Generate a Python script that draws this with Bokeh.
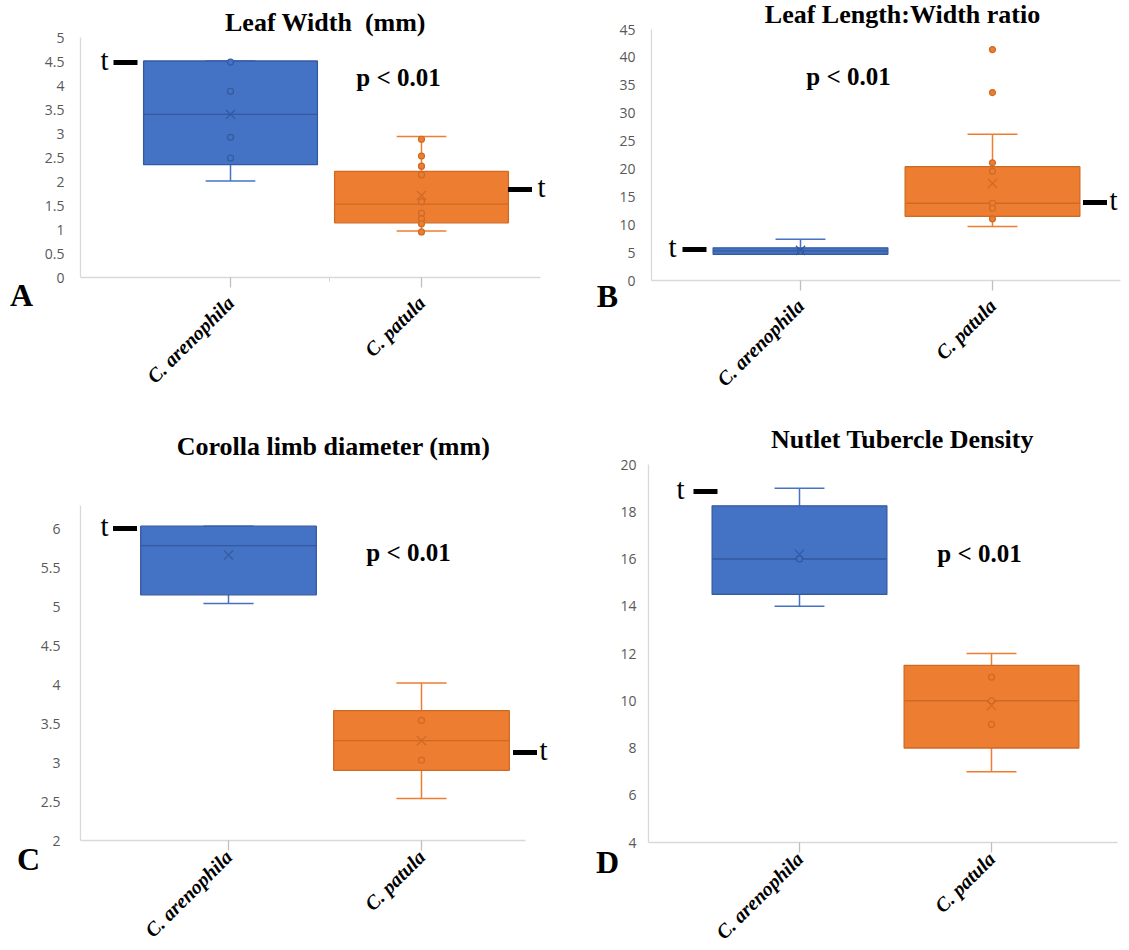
import numpy as np
from bokeh.plotting import figure
from bokeh.models import FixedTicker, Range1d
from bokeh.layouts import column, row
from bokeh.embed import file_html
from bokeh.resources import INLINE
from bokeh.core.properties import value

# ---------------- data ----------------
species = ["C. arenophila", "C. patula"]

# A: Leaf Width (mm)
a_q1 = [2.35, 1.14]
a_median = [3.40, 1.53]
a_q3 = [4.51, 2.21]
a_mean = [3.40, 1.71]
a_low = [2.01, 0.97]
a_high = [4.51, 2.94]
a_points = [[4.49, 3.88, 2.92, 2.49],
            [2.88, 2.53, 2.32, 2.14, 1.58, 1.34, 1.22, 1.12, 0.95]]

# B: Leaf Length:Width ratio
b_q1 = [4.70, 11.5]
b_median = [5.30, 13.85]
b_q3 = [5.85, 20.4]
b_mean = [5.40, 17.4]
b_low = [4.70, 9.7]
b_high = [7.40, 26.2]
b_points = [[5.2], [21.1, 19.6, 13.85, 12.95, 11.05, 41.4, 33.7]]

# C: Corolla limb diameter (mm)
c_q1 = [5.15, 2.90]
c_median = [5.78, 3.28]
c_q3 = [6.03, 3.665]
c_mean = [5.66, 3.28]
c_low = [5.04, 2.54]
c_high = [6.03, 4.02]
c_points = [[], [3.54, 3.03]]

# D: Nutlet Tubercle Density
d_q1 = [14.5, 8.0]
d_median = [16.0, 10.0]
d_q3 = [18.25, 11.5]
d_mean = [16.2, 9.8]
d_low = [14.0, 7.0]
d_high = [19.0, 12.0]
d_points = [[16.0], [11.0, 10.0, 9.0]]

y_ticks_a = [0, 0.5, 1, 1.5, 2, 2.5, 3, 3.5, 4, 4.5, 5]
y_ticks_b = [0, 5, 10, 15, 20, 25, 30, 35, 40, 45]
y_ticks_c = [2, 2.5, 3, 3.5, 4, 4.5, 5, 5.5, 6]
y_ticks_d = [4, 6, 8, 10, 12, 14, 16, 18, 20]

# ---------------- style ----------------
FILL = ["#4472C4", "#ED7D31"]
EDGE = ["#34599F", "#CF6A24"]
SERIF = "Liberation Serif"
BOX_W = 0.91
CAP_W = 0.26


def fmt(v):
    return f"{v:g}"


def panel(cfg):
    g = cfg["geom"]
    # page-pixel -> data helpers (for layout of ranges and annotations)
    X = lambda px: 1 + (px - g["x1px"]) / g["xppu"]
    Y = lambda py: g["yv"] + (g["ypx"] - py) / g["yppu"]

    p = figure(width=g["w"], height=g["h"], output_backend="svg",
               toolbar_location=None,
               x_range=Range1d(X(g["left"]), X(g["left"] + g["w"])),
               y_range=Range1d(Y(g["top"] + g["h"]), Y(g["top"])),
               min_border=0)
    p.outline_line_color = None
    p.grid.visible = False
    p.background_fill_color = "white"
    p.border_fill_color = "white"

    xs = [i + 1 for i in range(len(species))]
    q1, med, q3, mean, lo, hi, pts = (cfg["q1"], cfg["med"], cfg["q3"],
                                      cfg["mean"], cfg["lo"], cfg["hi"], cfg["pts"])
    for i, x in enumerate(xs):
        p.segment(x0=[x, x], y0=[q3[i], q1[i]], x1=[x, x], y1=[hi[i], lo[i]],
                  line_color=FILL[i], line_width=1.5)
        p.segment(x0=[x - CAP_W / 2] * 2, y0=[hi[i], lo[i]],
                  x1=[x + CAP_W / 2] * 2, y1=[hi[i], lo[i]],
                  line_color=FILL[i], line_width=1.5)
    p.vbar(x=xs, width=BOX_W, bottom=q1, top=q3, fill_color=FILL,
           line_color=EDGE, line_width=1.3)
    p.segment(x0=[x - BOX_W / 2 for x in xs], y0=med,
              x1=[x + BOX_W / 2 for x in xs], y1=med,
              line_color=EDGE, line_width=1.3)
    for i, x in enumerate(xs):
        if pts[i]:
            p.scatter(x=[x] * len(pts[i]), y=pts[i], marker="circle", size=6,
                      fill_color=FILL[i], line_color=EDGE[i], line_width=1.2)
    p.scatter(x=xs, y=mean, marker="x", size=13, line_color=EDGE, line_width=1.2)

    # axes at fixed positions inside the full-size frame
    yt = cfg["yt"]
    xa = p.xaxis[0]
    xa.fixed_location = yt[0]
    xa.ticker = FixedTicker(ticks=xs, minor_ticks=cfg.get("xminor", []))
    xa.major_label_overrides = {x: s for x, s in zip(xs, species)}
    xa.major_label_orientation = np.pi / 4
    xa.major_label_text_font = SERIF
    xa.major_label_text_font_style = "bold italic"
    xa.major_label_text_font_size = "20px"
    xa.major_label_text_color = "black"
    xa.major_label_standoff = g["xstand"]
    xa.axis_line_color = "#d9d9d9"
    xa.axis_line_width = 1.3
    xa.major_tick_line_color = "#bfbfbf"
    xa.major_tick_line_width = 1.3
    xa.major_tick_in = 0
    xa.major_tick_out = 10
    xa.minor_tick_line_color = "#d0d0d0"
    xa.minor_tick_in = 0
    xa.minor_tick_out = 4
    xa.bounds = (X(g["yaxis_px"]), X(g["xend_px"]))

    ya = p.yaxis[0]
    ya.fixed_location = X(g["yaxis_px"])
    ya.ticker = FixedTicker(ticks=yt, minor_ticks=[])
    ya.major_label_overrides = {t: fmt(t) for t in yt}
    ya.major_label_text_font = "Open Sans"
    ya.major_label_text_font_size = "14px"
    ya.major_label_text_color = "#595959"
    ya.major_label_standoff = g["ystand"]
    ya.axis_line_color = "#d9d9d9"
    ya.axis_line_width = 1.3
    ya.major_tick_line_color = None
    ya.minor_tick_line_color = None
    ya.bounds = (yt[0], g["ytop"])

    # title, panel letter, p-value
    tx, ty = cfg["title_px"]
    p.text(x=[X(tx)], y=[Y(ty)], text=[cfg["title"]], text_font=value(SERIF),
           text_font_style="bold", text_font_size="26px", text_align="center",
           text_baseline="middle", text_color="black")
    lx, ly = cfg["letter_px"]
    p.text(x=[X(lx)], y=[Y(ly)], text=[cfg["letter"]], text_font=value(SERIF),
           text_font_style="bold", text_font_size="32px", text_align="center",
           text_baseline="middle", text_color="black")
    px_, py_ = cfg["p_px"]
    p.text(x=[X(px_)], y=[Y(py_)], text=["p < 0.01"], text_font=value(SERIF),
           text_font_style="bold", text_font_size="25px", text_align="center",
           text_baseline="middle", text_color="black")
    # "t" markers: (t centre px, bar centre px, y px)
    for tpx, bpx, ypx in cfg["tmarks"]:
        p.text(x=[X(tpx)], y=[Y(ypx)], text=["t"], text_font=value(SERIF),
               text_font_size="29px", text_align="center",
               text_baseline="middle", text_color="black", y_offset=-3)
        p.rect(x=[X(bpx)], y=[Y(ypx)], width=24, height=5, width_units="screen",
               height_units="screen", fill_color="black", line_color=None)
    return p


pa = panel(dict(
    geom=dict(left=0, top=0, w=564, h=418, x1px=230, xppu=191, yv=0, ypx=277, yppu=48,
              yaxis_px=80, xend_px=540, ytop=5, ystand=10, xstand=12),
    yt=y_ticks_a, q1=a_q1, med=a_median, q3=a_q3, mean=a_mean, lo=a_low, hi=a_high,
    pts=a_points, title="Leaf Width \u00a0(mm)", title_px=(325, 22),
    letter="A", letter_px=(21, 294), p_px=(398, 77), xminor=[1.52],
    tmarks=[(104, 125, 62), (541, 519.5, 189)]))

pb = panel(dict(
    geom=dict(left=564, top=0, w=564, h=418, x1px=800, xppu=192, yv=0, ypx=280,
              yppu=251 / 45, yaxis_px=651, xend_px=1120, ytop=45, ystand=10, xstand=12),
    yt=y_ticks_b, q1=b_q1, med=b_median, q3=b_q3, mean=b_mean, lo=b_low, hi=b_high,
    pts=b_points, title="Leaf Length:Width ratio", title_px=(902, 14),
    letter="B", letter_px=(607, 295), p_px=(848, 76),
    tmarks=[(672, 694, 249), (1113, 1094.5, 202)]))

pc = panel(dict(
    geom=dict(left=0, top=418, w=564, h=530, x1px=228, xppu=193, yv=2, ypx=840, yppu=78,
              yaxis_px=80, xend_px=525, ytop=6.3, ystand=14, xstand=3),
    yt=y_ticks_c, q1=c_q1, med=c_median, q3=c_q3, mean=c_mean, lo=c_low, hi=c_high,
    pts=c_points, title="Corolla limb diameter (mm)", title_px=(333, 446),
    letter="C", letter_px=(28, 858), p_px=(408, 552),
    tmarks=[(104, 124.5, 528), (543, 524.5, 752)]))

pd_ = panel(dict(
    geom=dict(left=564, top=418, w=564, h=530, x1px=799, xppu=192, yv=4, ypx=842,
              yppu=378 / 16, yaxis_px=648, xend_px=1117, ytop=20, ystand=6, xstand=3),
    yt=y_ticks_d, q1=d_q1, med=d_median, q3=d_q3, mean=d_mean, lo=d_low, hi=d_high,
    pts=d_points, title="Nutlet Tubercle Density", title_px=(902, 439),
    letter="D", letter_px=(607, 861), p_px=(979, 553),
    tmarks=[(680, 705, 491)]))

layout = column(row(pa, pb), row(pc, pd_))
open("out.html", "w").write(file_html(layout, INLINE))
